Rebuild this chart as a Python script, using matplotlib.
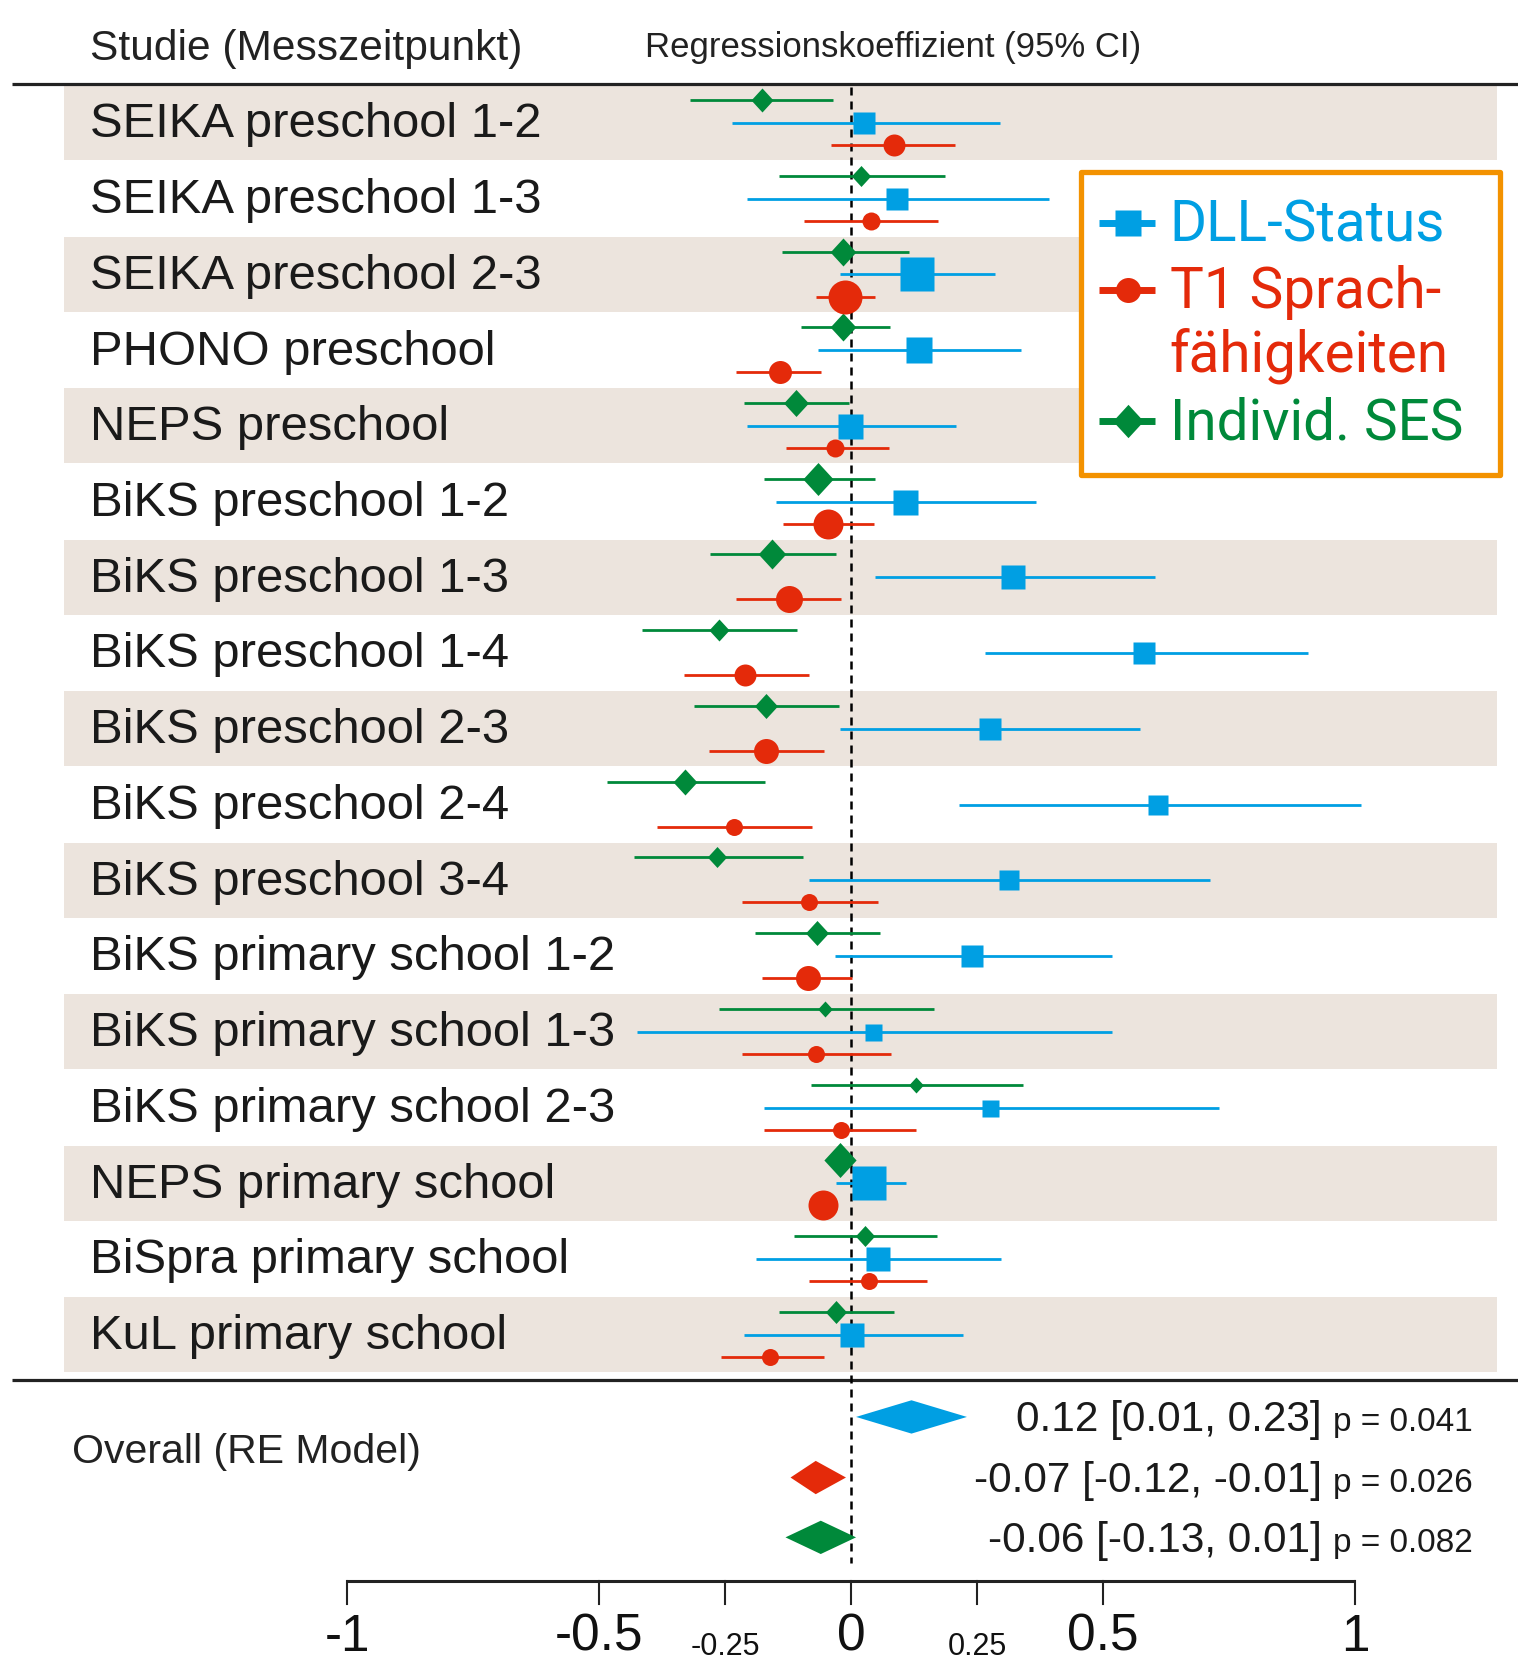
import numpy as np
import matplotlib
matplotlib.use("Agg")
from matplotlib import pyplot as plt
from matplotlib.patches import Rectangle, Polygon

# Studies (top to bottom)
studies = ["SEIKA preschool 1-2", "SEIKA preschool 1-3", "SEIKA preschool 2-3",
           "PHONO preschool", "NEPS preschool", "BiKS preschool 1-2",
           "BiKS preschool 1-3", "BiKS preschool 1-4", "BiKS preschool 2-3",
           "BiKS preschool 2-4", "BiKS preschool 3-4", "BiKS primary school 1-2",
           "BiKS primary school 1-3", "BiKS primary school 2-3", "NEPS primary school",
           "BiSpra primary school", "KuL primary school"]

# DLL-Status
dll_est = [0.025, 0.091, 0.131, 0.135, -0.002, 0.107, 0.322, 0.582, 0.276,
           0.609, 0.314, 0.240, 0.044, 0.276, 0.036, 0.053, 0.002]
dll_lo = [-0.236, -0.207, -0.021, -0.065, -0.207, -0.148, 0.048, 0.266, -0.021,
          0.215, -0.084, -0.032, -0.424, -0.173, -0.030, -0.188, -0.213]
dll_hi = [0.295, 0.393, 0.285, 0.337, 0.209, 0.367, 0.603, 0.906, 0.573,
          1.012, 0.712, 0.518, 0.518, 0.731, 0.110, 0.297, 0.223]
dll_wt = [23, 22, 34, 27, 25, 25, 24, 22, 22, 20, 20, 23, 17, 17, 34, 24, 24]

# T1 Sprachfaehigkeiten
t1_est = [0.085, 0.039, -0.011, -0.141, -0.032, -0.046, -0.124, -0.211, -0.169,
          -0.232, -0.084, -0.086, -0.070, -0.019, -0.055, 0.036, -0.160]
t1_lo = [-0.039, -0.094, -0.070, -0.228, -0.129, -0.135, -0.228, -0.331, -0.282,
         -0.384, -0.217, -0.177, -0.217, -0.173, -0.075, -0.084, -0.257]
t1_hi = [0.207, 0.172, 0.048, -0.059, 0.076, 0.046, -0.019, -0.084, -0.053,
         -0.078, 0.053, 0.002, 0.080, 0.129, -0.035, 0.150, -0.053]
t1_wt = [22, 18, 34, 23, 18, 30, 27, 22, 25, 17, 17, 25, 17, 17, 30, 17, 17]

# Individueller SES
ses_est = [-0.177, 0.020, -0.015, -0.015, -0.110, -0.065, -0.157, -0.261, -0.169,
           -0.329, -0.266, -0.067, -0.051, 0.129, -0.021, 0.027, -0.030]
ses_lo = [-0.320, -0.143, -0.137, -0.099, -0.213, -0.173, -0.280, -0.415, -0.312,
          -0.485, -0.430, -0.190, -0.261, -0.080, -0.045, -0.114, -0.143]
ses_hi = [-0.035, 0.186, 0.116, 0.078, -0.004, 0.048, -0.030, -0.107, -0.023,
          -0.171, -0.095, 0.057, 0.164, 0.341, 0.002, 0.171, 0.086]
ses_wt = [24, 21, 28, 28, 27, 33, 30, 22, 25, 26, 21, 25, 16, 16, 35, 21, 23]

# Overall (RE model): DLL, T1, SES
ov_est = [0.12, -0.07, -0.06]
ov_lo = [0.01, -0.12, -0.13]
ov_hi = [0.23, -0.01, 0.01]
ov_p = ["0.041", "0.026", "0.082"]

major_ticks = [-1, -0.5, 0, 0.5, 1]
minor_ticks = [-0.25, 0.25]

BLUE = "#009FE3"
RED = "#E42A0A"
GREEN = "#00893A"
BAND = "#ECE4DD"
LAB = "Liberation Sans"
diamond = [(0, 1), (0.92, 0), (0, -1), (-0.92, 0), (0, 1)]

fig = plt.figure(figsize=(15.18, 16.64), dpi=100)
ax = fig.add_axes([0, 0, 1, 1])
ax.set_xlim(-1.6885, 1.3234)
ax.set_ylim(20.372, -1.598)
ax.axis("off")

n = len(studies)
rows = np.arange(n)

# shaded bands
for i in rows[::2]:
    ax.add_patch(Rectangle((-1.562, i - 0.47), 2.844, 0.99, color=BAND, lw=0, zorder=0))

# header + separators
ax.text(-1.51, -0.80, "Studie (Messzeitpunkt)", fontsize=30.6, family=LAB, color="#222222")
ax.text(-0.409, -0.845, "Regressionskoeffizient (95% CI)", fontsize=25, family=LAB, color="#222222")
for yl in [-0.49, 16.62]:
    ax.plot([-1.664, 1.33], [yl, yl], color="#222222", lw=2.3, zorder=3, solid_capstyle="butt")

# zero line
ax.plot([0, 0], [-0.45, 19.04], color="black", lw=1.8, ls=(0, (3.2, 2.4)), zorder=4)

for i in rows:
    ax.text(-1.51, i + 0.215, studies[i], fontsize=35.3, family=LAB, color="#1a1a1a")

series = [
    (ses_est, ses_lo, ses_hi, ses_wt, GREEN, diamond, -0.277),
    (dll_est, dll_lo, dll_hi, dll_wt, BLUE, "s", 0.026),
    (t1_est, t1_lo, t1_hi, t1_wt, RED, "o", 0.317),
]
for est, lo, hi, wt, col, mk, off in series:
    y = rows + off
    ax.hlines(y, lo, hi, color=col, lw=2.0, zorder=5)
    for k in rows:
        ax.plot(est[k], y[k], marker=mk, ms=wt[k] * 0.72, color=col,
                mec="none", ls="none", zorder=6)

# overall diamonds
ov_cols = [BLUE, RED, GREEN]
ov_y = [17.11, 17.91, 18.70]
for k in range(3):
    yk = ov_y[k]
    pts = [(ov_lo[k], yk), (ov_est[k], yk - 0.22), (ov_hi[k], yk), (ov_est[k], yk + 0.22)]
    ax.add_patch(Polygon(pts, closed=True, color=ov_cols[k], lw=0, zorder=6))
    ax.text(0.934, yk + 0.19, f"{ov_est[k]:.2f} [{ov_lo[k]:.2f}, {ov_hi[k]:.2f}]",
            fontsize=30.5, family=LAB, ha="right", color="#1a1a1a")
    ax.text(0.956, yk + 0.19, f"p = {ov_p[k]}", fontsize=24, family=LAB, color="#1a1a1a")
ax.text(-1.546, 17.72, "Overall (RE Model)", fontsize=29.5, family=LAB, color="#222222")

# x axis
ax.plot([-1, 1], [19.28, 19.28], color="#222222", lw=2.2, solid_capstyle="butt")
for t in major_ticks + minor_ticks:
    ax.plot([t, t], [19.28, 19.58], color="#222222", lw=1.5)
for t in major_ticks:
    ax.text(t, 20.34, f"{t:g}", fontsize=37, family=LAB, ha="center", va="bottom", color="#111111")
for t in minor_ticks:
    ax.text(t, 20.34, f"{t:g}", fontsize=22, family=LAB, ha="center", va="bottom", color="#111111")

# legend
ax.add_patch(Rectangle((0.456, 0.673), 0.832, 4.0, facecolor="white",
                       edgecolor="#F39200", lw=3.8, joinstyle="round", zorder=7))
leg = [(1.35, BLUE, "s", 18.5, 1.585, ["DLL-Status"]),
       (2.23, RED, "o", 18.0, 2.47, ["T1 Sprach-", "fähigkeiten"]),
       (3.96, GREEN, diamond, 24, 4.21, ["Individ. SES"])]
for yk, col, mk, ms, base, lines in leg:
    ax.plot([0.492, 0.603], [yk, yk], color=col, lw=5, zorder=8, solid_capstyle="butt")
    ax.plot(0.549, yk, marker=mk, ms=ms, color=col, mec="none", zorder=9)
    for j, s in enumerate(lines):
        ax.text(0.632, base + j * 0.84, s, fontsize=40.8, family="Roboto", color=col, zorder=9)

fig.savefig("out.png", dpi=100)
